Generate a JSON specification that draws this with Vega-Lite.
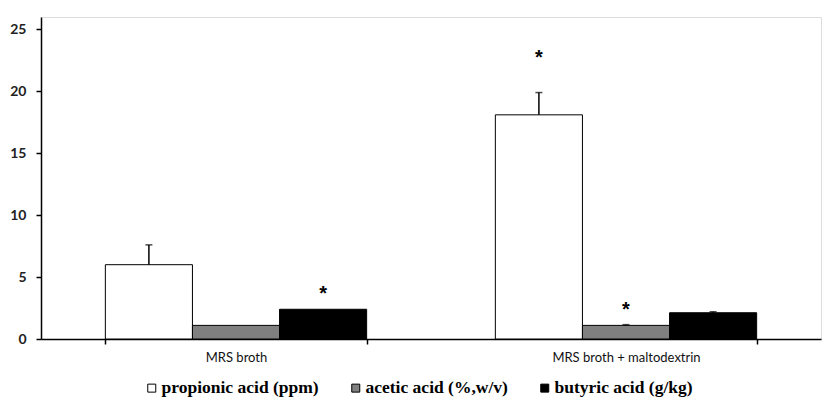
{
  "$schema": "https://vega.github.io/schema/vega-lite/v6.json",
  "autosize": {"type": "none"},
  "width": 780,
  "height": 322,
  "padding": {"left": 41, "top": 17, "right": 6, "bottom": 76},
  "background": "white",
  "data": {
    "values": [
      {"group": "MRS broth", "acid": "propionic acid (ppm)", "value": 6.0, "upper": 7.6, "star": false},
      {"group": "MRS broth", "acid": "acetic acid (%,w/v)", "value": 1.1, "upper": 1.1, "star": false},
      {"group": "MRS broth", "acid": "butyric acid (g/kg)", "value": 2.4, "upper": 2.4, "star": true},
      {"group": "MRS broth + maltodextrin", "acid": "propionic acid (ppm)", "value": 18.1, "upper": 19.9, "star": true},
      {"group": "MRS broth + maltodextrin", "acid": "acetic acid (%,w/v)", "value": 1.1, "upper": 1.16, "star": true},
      {"group": "MRS broth + maltodextrin", "acid": "butyric acid (g/kg)", "value": 2.12, "upper": 2.2, "star": false}
    ]
  },
  "encoding": {
    "x": {
      "field": "group", "type": "nominal", "sort": null,
      "scale": {"paddingInner": 0.33, "paddingOuter": 0.165},
      "axis": {
        "title": null, "labelAngle": 0, "tickBand": "extent",
        "domainColor": "black", "domainWidth": 1.5, "tickColor": "black", "tickWidth": 1.5, "tickSize": 5,
        "labelFont": "Lato", "labelFontSize": 13, "labelColor": "#111", "labelPadding": 7
      }
    },
    "xOffset": {
      "field": "acid", "type": "nominal",
      "sort": ["propionic acid (ppm)", "acetic acid (%,w/v)", "butyric acid (g/kg)"],
      "scale": {"paddingInner": 0, "paddingOuter": 0}
    }
  },
  "layer": [
    {
      "mark": {"type": "bar", "stroke": "black", "strokeWidth": 1},
      "encoding": {
        "y": {
          "field": "value", "type": "quantitative",
          "scale": {"domain": [0, 25]},
          "axis": {
            "title": null, "values": [0, 5, 10, 15, 20, 25], "grid": false,
            "domainColor": "black", "domainWidth": 1.5, "tickColor": "black", "tickWidth": 1.5, "tickSize": 5,
            "labelFont": "Lato", "labelFontWeight": "bold", "labelFontSize": 14, "labelColor": "#222", "labelPadding": 10
          }
        },
        "fill": {
          "field": "acid", "type": "nominal",
          "sort": ["propionic acid (ppm)", "acetic acid (%,w/v)", "butyric acid (g/kg)"],
          "scale": {"domain": ["propionic acid (ppm)", "acetic acid (%,w/v)", "butyric acid (g/kg)"], "range": ["white", "#808080", "black"]},
          "legend": {
            "title": null, "orient": "none", "legendX": 102, "legendY": 362, "direction": "horizontal",
            "symbolType": "square", "symbolSize": 64, "symbolStrokeColor": "black", "symbolStrokeWidth": 1,
            "labelFont": "Liberation Serif", "labelFontWeight": "bold", "labelFontSize": 17.5, "labelColor": "black",
            "labelOffset": 1, "columnPadding": 28, "labelLimit": 300
          }
        }
      }
    },
    {
      "transform": [{"filter": "datum.upper > datum.value"}],
      "mark": {"type": "rule", "color": "black", "strokeWidth": 1.5},
      "encoding": {
        "y": {"field": "value", "type": "quantitative"},
        "y2": {"field": "upper"}
      }
    },
    {
      "transform": [{"filter": "datum.upper > datum.value"}],
      "mark": {"type": "tick", "color": "black", "thickness": 1.5, "size": 7, "orient": "horizontal"},
      "encoding": {
        "y": {"field": "upper", "type": "quantitative"}
      }
    },
    {
      "transform": [{"filter": "datum.star && datum.acid != 'propionic acid (ppm)'"}],
      "mark": {"type": "text", "text": "*", "fontSize": 20, "fontWeight": "bold", "font": "Liberation Sans", "baseline": "middle", "dy": -15, "color": "black"},
      "encoding": {
        "y": {"field": "upper", "type": "quantitative"}
      }
    },
    {
      "transform": [{"filter": "datum.star && datum.acid == 'propionic acid (ppm)'"}],
      "mark": {"type": "text", "text": "*", "fontSize": 20, "fontWeight": "bold", "font": "Liberation Sans", "baseline": "middle", "dy": -35, "color": "black"},
      "encoding": {
        "y": {"field": "upper", "type": "quantitative"}
      }
    }
  ]
}
